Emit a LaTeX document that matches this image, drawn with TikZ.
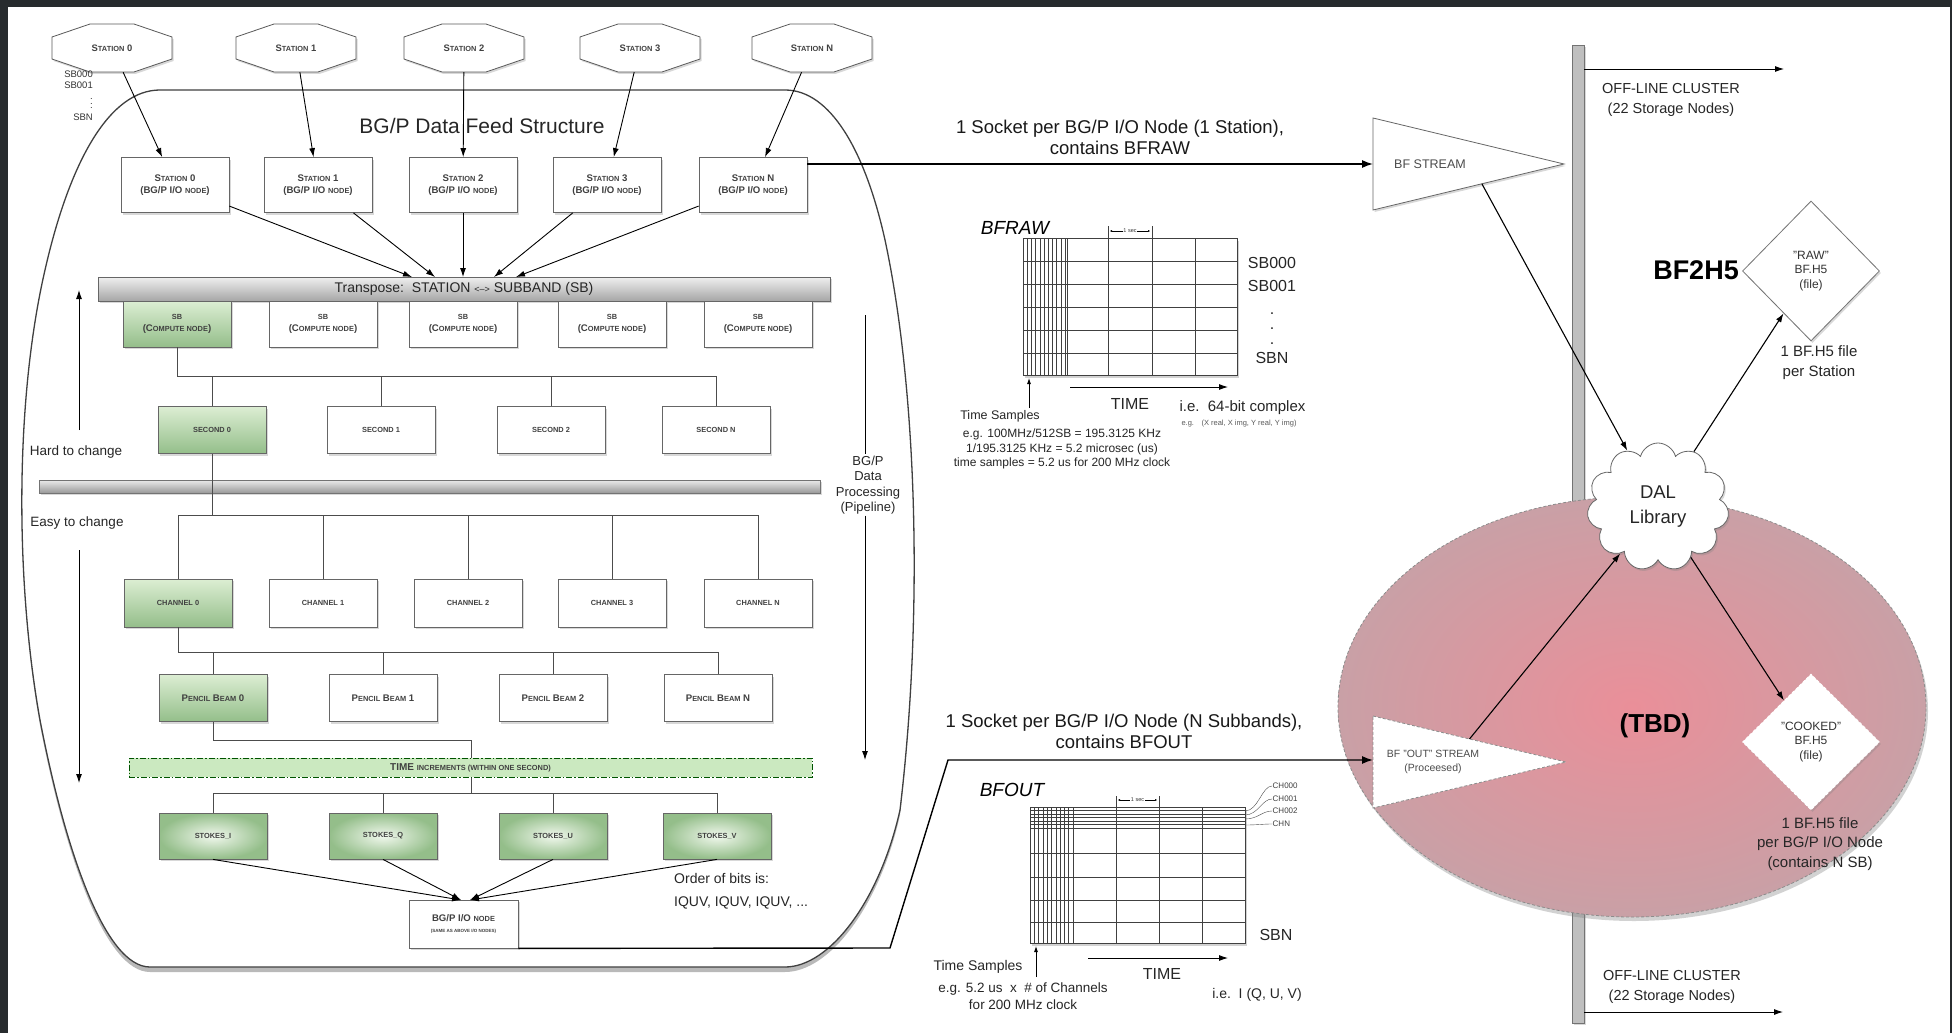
\documentclass[tikz,border=0pt]{standalone}
\usepackage{fontspec}
\setmainfont{Liberation Sans}
\usetikzlibrary{arrows.meta,shapes.geometric,shapes.symbols,shadows,calc}
\definecolor{bgdark}{HTML}{272B2E}
\definecolor{gtop}{HTML}{DCEED3}
\definecolor{gbot}{HTML}{94BE8A}
\definecolor{timegreen}{HTML}{CBE9C0}
\definecolor{tbdin}{HTML}{EA8F99}
\definecolor{tbdout}{HTML}{C9A0A6}
\newcommand\fs[2]{\fontsize{#1pt}{#2pt}\selectfont}
\newcommand\SCs[1]{{\fontsize{7.4pt}{8.5pt}\selectfont #1}}
\newcommand\octag[4]{%
  \draw[octln] (#2-22,#3-24) -- (#2+22,#3-24) -- (#2+60,#3-11) -- (#2+60,#3+11) -- (#2+22,#3+24) -- (#2-22,#3+24) -- (#2-60,#3+11) -- (#2-60,#3-11) -- cycle;
  \node[octtxt] (#1) at (#2,#3) {#4};}
\begin{document}
\begin{tikzpicture}[x=1pt,y=-1pt,
  shad/.style={drop shadow={opacity=0.3,shadow xshift=1.5pt,shadow yshift=-2pt}},
  box/.style={draw=black!60, line width=0.8pt, fill=white, minimum width=108pt, minimum height=46pt, inner sep=1pt, align=center, font=\bfseries\fs{9.6}{11.5}, text=black!75, shad},
  gbox/.style={box, top color=gtop, bottom color=gbot},
  rbox/.style={box, inner color=gtop!40!white, outer color=gbot},
  tline/.style={draw=black!70, line width=0.9pt},
  arr/.style={draw=black, line width=0.9pt, -{Latex[length=9pt,width=6pt]}},
  arrb/.style={draw=black, line width=1.4pt, -{Latex[length=11pt,width=8pt]}},
  octln/.style={draw=black!65, line width=0.8pt, fill=white, shad},
  octtxt/.style={minimum width=120pt, minimum height=48pt, inner sep=0pt, font=\bfseries\fs{9.4}{10}, text=black!75},
  lbl/.style={font=\fs{13.5}{16}, text=black!85, inner sep=1pt},
  gridln/.style={draw=black!75, line width=0.7pt},
  small/.style={font=\fs{12}{14.5}, text=black!85, inner sep=1pt, align=center},
  big/.style={font=\fs{18.5}{21}, text=black!90, inner sep=1pt, align=center},
  tiny/.style={font=\fs{5.5}{6}, inner sep=0.5pt, fill=white, text=black!80}
]
\useasboundingbox (0,0) rectangle (1952,1033);
\fill[bgdark] (0,0) rectangle (1952,1033);
\fill[white] (8,7) rectangle (1950,1033);

% container
\draw[black!75, line width=1.3pt, fill=white, drop shadow={opacity=0.55,shadow xshift=0pt,shadow yshift=-5pt}]
  (160,90) -- (785,90) .. controls (830,90) and (865,150) .. (885,240)
  .. controls (915,380) and (925,600) .. (900,810)
  .. controls (880,900) and (830,967) .. (785,967) -- (150,967)
  .. controls (105,967) and (65,850) .. (40,720)
  .. controls (15,580) and (15,400) .. (45,270)
  .. controls (70,160) and (110,90) .. (160,90) -- cycle;

% stations
\octag{st0}{112}{48}{S\SCs{TATION} 0}
\octag{st1}{296}{48}{S\SCs{TATION} 1}
\octag{st2}{464}{48}{S\SCs{TATION} 2}
\octag{st3}{640}{48}{S\SCs{TATION} 3}
\octag{st4}{812}{48}{S\SCs{TATION} N}
\node[font=\fs{9.5}{10.5}, align=right, inner sep=0, anchor=north east, text=black!80] (sblist) at (93,71) {SB000\\SB001\\[1pt].\\[-6pt].\\[-6pt].\\[1pt]SBN};

\node[font=\fs{21}{24}, text=black!85] (title) at (482,126) {BG/P Data Feed Structure};

% I/O nodes
\node[box, minimum height=55pt] (ion0) at (175,185) {S\SCs{TATION} 0\\(BG/P I/O \SCs{NODE})};
\node[box, minimum height=55pt] (ion1) at (318,185) {S\SCs{TATION} 1\\(BG/P I/O \SCs{NODE})};
\node[box, minimum height=55pt] (ion2) at (463,185) {S\SCs{TATION} 2\\(BG/P I/O \SCs{NODE})};
\node[box, minimum height=55pt] (ion3) at (607,185) {S\SCs{TATION} 3\\(BG/P I/O \SCs{NODE})};
\node[box, minimum height=55pt] (ion4) at (753,185) {S\SCs{TATION} N\\(BG/P I/O \SCs{NODE})};
\foreach \i in {0,...,4} \draw[arr] (st\i) -- (ion\i);

% transpose bar
\node[draw=black!60, line width=0.8pt, top color=black!6, bottom color=black!35, minimum width=732pt, minimum height=24pt, inner sep=0, font=\fs{14}{16}, text=black!85, shad] (tbar) at (464,289) {Transpose:\ \ STATION {\fs{9}{10}<-->} SUBBAND (SB)};
\coordinate (tp0) at (412,277);
\coordinate (tp1) at (435,277);
\coordinate (tp2) at (463,277);
\coordinate (tp3) at (494,277);
\coordinate (tp4) at (516,277);
\foreach \i in {0,...,4} \draw[arr] (ion\i) -- (tp\i);

% SB compute nodes
\node[gbox] (sb0) at (177,324) {\SCs{SB}\\(C\SCs{OMPUTE NODE})};
\node[box] (sb1) at (323,324) {\SCs{SB}\\(C\SCs{OMPUTE NODE})};
\node[box] (sb2) at (463,324) {\SCs{SB}\\(C\SCs{OMPUTE NODE})};
\node[box] (sb3) at (612,324) {\SCs{SB}\\(C\SCs{OMPUTE NODE})};
\node[box] (sb4) at (758,324) {\SCs{SB}\\(C\SCs{OMPUTE NODE})};

% seconds
\node[gbox, minimum height=47pt] (sec0) at (212,430) {\SCs{SECOND 0}};
\node[box, minimum height=47pt] (sec1) at (381,430) {\SCs{SECOND 1}};
\node[box, minimum height=47pt] (sec2) at (551,430) {\SCs{SECOND 2}};
\node[box, minimum height=47pt] (sec3) at (716,430) {\SCs{SECOND N}};
\coordinate (j1) at (177,376);
\draw[tline] (sb0) -- (j1) -- (j1 -| sec3) -- (sec3);
\foreach \i in {0,1,2} \draw[tline] (j1 -| sec\i) -- (sec\i);

% second bar
\node[draw=black!55, line width=0.7pt, top color=black!8, bottom color=black!40, minimum width=781pt, minimum height=13pt, inner sep=0, shad] (bar2) at (430,486.5) {};

% channels
\node[gbox, minimum height=48pt] (ch0) at (178,603) {\SCs{CHANNEL 0}};
\node[box, minimum height=48pt] (ch1) at (323,603) {\SCs{CHANNEL 1}};
\node[box, minimum height=48pt] (ch2) at (468,603) {\SCs{CHANNEL 2}};
\node[box, minimum height=48pt] (ch3) at (612,603) {\SCs{CHANNEL 3}};
\node[box, minimum height=48pt] (ch4) at (758,603) {\SCs{CHANNEL N}};
\coordinate (j2) at (212,515);
\draw[tline] (sec0) -- (j2);
\draw[tline] (j2 -| ch0) -- (j2 -| ch4);
\foreach \i in {0,...,4} \draw[tline] (j2 -| ch\i) -- (ch\i);

% pencil beams
\node[gbox, minimum height=47pt] (pb0) at (213,698) {P\SCs{ENCIL} B\SCs{EAM} 0};
\node[box, minimum height=47pt] (pb1) at (383,698) {P\SCs{ENCIL} B\SCs{EAM} 1};
\node[box, minimum height=47pt] (pb2) at (553,698) {P\SCs{ENCIL} B\SCs{EAM} 2};
\node[box, minimum height=47pt] (pb3) at (718,698) {P\SCs{ENCIL} B\SCs{EAM} N};
\coordinate (j3) at (178,652);
\draw[tline] (ch0) -- (j3) -- (j3 -| pb3) -- (pb3);
\foreach \i in {0,1,2} \draw[tline] (j3 -| pb\i) -- (pb\i);

% stokes
\node[rbox] (sk0) at (213,836) {\SCs{STOKES\_I}};
\node[rbox] (sk1) at (383,836) {\SCs{STOKES\_Q}};
\node[rbox] (sk2) at (553,836) {\SCs{STOKES\_U}};
\node[rbox] (sk3) at (717,836) {\SCs{STOKES\_V}};
\coordinate (j4) at (213,740);
\coordinate (j4b) at (471,740);
\coordinate (j5) at (471,793);
\draw[tline] (pb0) -- (j4) -- (j4b) -- (j5);
\draw[tline] (j5 -| sk0) -- (j5 -| sk3);
\foreach \i in {0,...,3} \draw[tline] (j5 -| sk\i) -- (sk\i);

% time bar
\node[draw=black!45!green!60!black, line width=0.9pt, dash pattern=on 6pt off 2pt on 1.5pt off 2pt, fill=timegreen, minimum width=683pt, minimum height=19pt, inner sep=0, font=\bfseries\fs{10}{11}, text=black!75] (timebar) at (470.5,767.5) {TIME \SCs{INCREMENTS (WITHIN ONE SECOND)}};

% bottom io node
\node[box, minimum width=109pt, minimum height=48pt] (iob) at (463.5,924) {BG/P I/O \SCs{NODE}\\[-1pt]{\fs{4.5}{5}(SAME AS ABOVE I/O NODES)}};
\coordinate (ia) at (461,900);
\coordinate (ib) at (470,900);
\draw[arr] (sk0.south) -- (ia);
\draw[arr] (sk1.south) -- (ia);
\draw[arr] (sk2.south) -- (ib);
\draw[arr] (sk3.south) -- (ib);
\node[lbl, anchor=west, align=left, font=\fs{14}{23}] (order) at (673,891) {Order of bits is:\\IQUV, IQUV, IQUV, ...};

% side labels
\node[lbl] (hard) at (76,452) {Hard to change};
\coordinate (hardb) at (79,430);
\coordinate (hardt) at (79,290);
\draw[arr] (hardb) -- (hardt);
\node[lbl] (easy) at (77,523) {Easy to change};
\coordinate (easyb) at (79,550);
\coordinate (easyt) at (79,783);
\draw[arr] (easyb) -- (easyt);
\node[lbl, align=center, font=\fs{13}{15.5}] (pipe) at (868,485) {BG/P\\Data\\Processing\\(Pipeline)};
\coordinate (pipt) at (865,315);
\coordinate (pipb) at (865,760);
\draw[line width=0.9pt] (pipt) -- (pipe.north -| pipt);
\draw[arr] (pipe.south -| pipb) -- (pipb);

% ================= right part =================
\node[draw=black!55, line width=0.8pt, fill=black!25, minimum width=12pt, minimum height=978pt, inner sep=0, shad] (pole) at (1578,534) {};
\coordinate (toparr) at (1784,69);
\draw[line width=0.9pt, -{Latex[length=9pt,width=6pt]}] (pole.east |- toparr) -- (toparr);
\node[font=\fs{14.5}{20}, align=center, text=black!85] (offtop) at (1671,100) {OFF-LINE CLUSTER\\(22 Storage Nodes)};
\coordinate (botarr) at (1783,1012);
\draw[line width=0.9pt, -{Latex[length=9pt,width=6pt]}] (pole.east |- botarr) -- (botarr);
\node[font=\fs{14.5}{20}, align=center, text=black!85] (offbot) at (1672,987) {OFF-LINE CLUSTER\\(22 Storage Nodes)};

% BF stream
\coordinate (bsA) at (1373,118);
\coordinate (bsB) at (1373,210);
\coordinate (bsT) at (1564,164);
\draw[draw=black!60, line width=0.8pt, fill=white, shad] (bsA) -- (bsT) -- (bsB) -- cycle;
\node[font=\fs{12.5}{14}, text=black!70] (bfst) at (1430,164) {BF STREAM};
\draw[arrb] (ion4.east |- bsT) -- (bsA |- bsT);
\node[big] (sock1) at (1120,137) {1 Socket per BG/P I/O Node (1 Station),\\contains BFRAW};

\node[font=\bfseries\fs{27}{30}] (bf2h5) at (1696,270) {BF2H5};

% TBD ellipse
\node[ellipse, draw=black!45, line width=0.8pt, dash pattern=on 3pt off 2pt, inner color=tbdin, outer color=tbdout, minimum width=588pt, minimum height=420pt, drop shadow={opacity=0.35,shadow xshift=2pt,shadow yshift=-4pt}] (tbdel) at (1632,707) {};
\node[font=\bfseries\fs{26}{30}] (tbd) at (1655,726) {(TBD)};

% RAW diamond
\node[diamond, draw=black!55, line width=0.8pt, fill=white, minimum width=137pt, minimum height=140pt, inner sep=0, align=center, font=\fs{12}{14.5}, text=black!80, shad] (raw) at (1811,271) {"RAW"\\BF.H5\\(file)};
\node[font=\fs{15}{20}, align=center, text=black!85] (rawlbl) at (1819,363) {1 BF.H5 file\\per Station};

% DAL cloud
\node[cloud, cloud puffs=11, cloud ignores aspect, draw=black!60, line width=0.8pt, fill=white, minimum width=142pt, minimum height=128pt, inner sep=0, align=center, font=\fs{18.5}{25}, text=black!85, shad] (dal) at (1658,507) {DAL\\Library};

% cooked diamond
\node[diamond, draw=white, line width=0.8pt, dash pattern=on 3pt off 2pt, fill=white, minimum width=137pt, minimum height=136pt, inner sep=0, align=center, font=\fs{12}{14.5}, text=black!80, shad] (cooked) at (1811,742) {"COOKED"\\BF.H5\\(file)};
\node[font=\fs{15}{19.5}, align=center, text=black!85] (cooklbl) at (1820,844) {1 BF.H5 file\\per BG/P I/O Node\\(contains N SB)};

% OUT stream
\coordinate (oA) at (1373,716);
\coordinate (oB) at (1373,808);
\coordinate (oT) at (1566,762);
\draw[draw=black!45, line width=0.8pt, dash pattern=on 3pt off 2pt, fill=white] (oA) -- (oT) -- (oB) -- cycle;
\node[font=\fs{10.5}{13.5}, align=center, text=black!70] (outst) at (1433,762) {BF "OUT" STREAM\\(Proceesed)};
\coordinate (oE) at ($(oA)!0.5!(oT)$);
\coordinate (bsE) at ($(bsB)!0.57!(bsT)$);

% right arrows
\draw[arr, line width=1.1pt] (bsE) -- (dal);
\draw[arr, line width=1.1pt] (dal) -- (raw);
\draw[arr, line width=1.1pt] (dal) -- (cooked);
\draw[arr, line width=1.1pt] (oE) -- (dal);

% output line from bottom io node
\coordinate (o1) at (890,948);
\coordinate (o2) at (948,760);
\draw[arrb] (iob.south east) -- (o1) -- (o2) -- (oA |- o2);
\node[big] (sock2) at (1124,731) {1 Socket per BG/P I/O Node (N Subbands),\\contains BFOUT};

% ================= BFRAW grid =================
\node[font=\itshape\fs{19}{20}] (bfraw) at (1015,228) {BFRAW};
\draw[gridln, fill=white, drop shadow={opacity=0.35,shadow xshift=2pt,shadow yshift=-3pt}] (1023,238) rectangle (1237,375);
\foreach \y in {261,284,307,330,353} \draw[gridln] (1023,\y) -- (1237,\y);
\foreach \x in {1067,1195} \draw[gridln] (\x,238) -- (\x,375);
\foreach \x in {1108,1152} \draw[gridln] (\x,226) -- (\x,375);
\foreach \k in {1,...,10} \draw[gridln, line width=0.5pt] (1023+\k*4.2,238) -- (1023+\k*4.2,375);
\draw[line width=0.3pt, {Latex[length=2pt,width=2pt]}-{Latex[length=2pt,width=2pt]}] (1110,231) -- (1150,231);
\node[tiny] (sec1a) at (1130,231) {1 sec};
\node[font=\fs{16}{23}, align=center, text=black!85] (sbl) at (1272,310) {SB000\\SB001\\.\\[-8pt].\\[-8pt].\\[-4pt]SBN};
\coordinate (tsa) at (1029,408);
\coordinate (tsb) at (1029,378);
\draw[line width=0.8pt, -{Latex[length=6pt,width=4pt]}] (tsa) -- (tsb);
\node[small, font=\fs{12.5}{14}] (ts1) at (1000,416) {Time Samples};
\coordinate (ta) at (1070,387);
\coordinate (tb) at (1228,387);
\draw[line width=0.9pt, -{Latex[length=9pt,width=6pt]}] (ta) -- (tb);
\node[font=\fs{16}{18}, text=black!85] (time1) at (1130,404) {TIME};
\node[font=\fs{15}{17}, anchor=west, text=black!85] (ie1) at (1176,408) {i.e.\ \ 64-bit complex};
\node[font=\fs{7.5}{9}, anchor=west, text=black!65] (eg1) at (1178,424) {e.g.\quad(X real, X img, Y real, Y img)};
\node[small] (calc1) at (1062,449) {e.g. 100MHz/512SB = 195.3125 KHz\\1/195.3125 KHz = 5.2 microsec (us)\\time samples = 5.2 us for 200 MHz clock};

% ================= BFOUT grid =================
\node[font=\itshape\fs{19}{20}] (bfout) at (1012,790) {BFOUT};
\draw[gridln, fill=white, drop shadow={opacity=0.35,shadow xshift=2pt,shadow yshift=-3pt}] (1030,807) rectangle (1245,943);
\foreach \k in {1,...,6} \draw[gridln, line width=0.5pt] (1030,807+\k*3.5) -- (1245,807+\k*3.5);
\foreach \y in {853,877,900,922} \draw[gridln] (1030,\y) -- (1245,\y);
\foreach \x in {1073,1202} \draw[gridln] (\x,807) -- (\x,943);
\foreach \x in {1116,1159} \draw[gridln] (\x,796) -- (\x,943);
\foreach \k in {1,...,10} \draw[gridln, line width=0.5pt] (1030+\k*4.3,807) -- (1030+\k*4.3,943);
\draw[line width=0.3pt, {Latex[length=2pt,width=2pt]}-{Latex[length=2pt,width=2pt]}] (1118,800) -- (1157,800);
\node[tiny] (sec1b) at (1137.5,800) {1 sec};
\node[font=\fs{8}{9}, anchor=west, inner sep=0.5pt, text=black!75] (c0) at (1272,786) {CH000};
\node[font=\fs{8}{9}, anchor=west, inner sep=0.5pt, text=black!75] (c1) at (1272,799) {CH001};
\node[font=\fs{8}{9}, anchor=west, inner sep=0.5pt, text=black!75] (c2) at (1272,811) {CH002};
\node[font=\fs{8}{9}, anchor=west, inner sep=0.5pt, text=black!75] (c3) at (1272,824) {CHN};
\coordinate (l0) at (1245,811);
\coordinate (l1) at (1245,815);
\coordinate (l2) at (1245,819);
\coordinate (l3) at (1245,825);
\draw[line width=0.4pt, black!70] (l0) .. controls (1258,811) and (1262,786) .. (c0.west);
\draw[line width=0.4pt, black!70] (l1) .. controls (1258,815) and (1262,799) .. (c1.west);
\draw[line width=0.4pt, black!70] (l2) .. controls (1258,819) and (1262,811) .. (c2.west);
\draw[line width=0.4pt, black!70] (l3) .. controls (1258,825) and (1262,824) .. (c3.west);
\node[font=\fs{16}{18}, text=black!85] (sbn2) at (1276,935) {SBN};
\coordinate (tsc) at (1036,977);
\coordinate (tsd) at (1036,946);
\draw[line width=0.8pt, -{Latex[length=6pt,width=4pt]}] (tsc) -- (tsd);
\node[small, font=\fs{14}{16}] (ts2) at (978,967) {Time Samples};
\node[small, font=\fs{13.5}{17}] (calc2) at (1023,996) {e.g. 5.2 us\ \ x\ \ \# of Channels\\for 200 MHz clock};
\coordinate (tc) at (1088,958);
\coordinate (td) at (1228,958);
\draw[line width=0.9pt, -{Latex[length=9pt,width=6pt]}] (tc) -- (td);
\node[font=\fs{16}{18}, text=black!85] (time2) at (1162,974) {TIME};
\node[font=\fs{14}{16}, text=black!85] (ie2) at (1257,995) {i.e.\ \ I (Q, U, V)};
\end{tikzpicture}
\end{document}
